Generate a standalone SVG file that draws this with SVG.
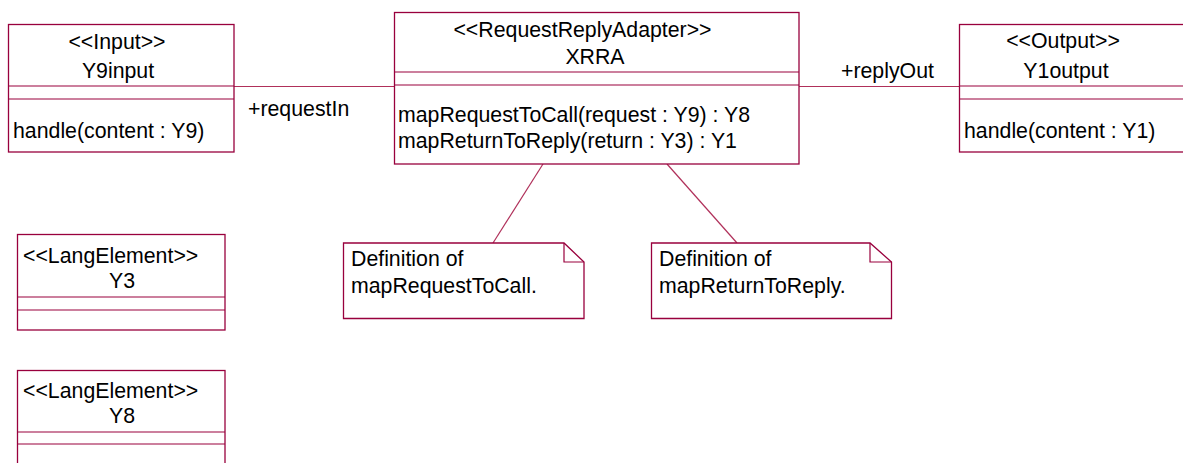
<svg xmlns="http://www.w3.org/2000/svg" width="1183" height="463" viewBox="0 0 1183 463">
  <style>
    .box { fill: #ffffff; stroke: #99003d; stroke-width: 1.3; }
    .ln { fill: none; stroke: #99003d; stroke-width: 1.2; }
    .conn { fill: none; stroke: #b0305a; stroke-width: 1.2; }
    text { font-family: "Liberation Sans", Arial, sans-serif; font-size: 21.3px; fill: #000000; }
    .c { text-anchor: middle; }
  </style>
  <rect width="1183" height="463" fill="#ffffff"/>

  <g id="connectors">
    <line class="conn" x1="234" y1="86.5" x2="394" y2="86.5"/>
    <line class="conn" x1="799" y1="86.5" x2="959" y2="86.5"/>
    <line class="conn" x1="543" y1="164" x2="493" y2="243"/>
    <line class="conn" x1="667" y1="164" x2="737" y2="243"/>
    <text x="248" y="116">+requestIn</text>
    <text x="841" y="78">+replyOut</text>
  </g>

  <g id="Y9input">
    <rect class="box" x="8.5" y="24.5" width="225.5" height="127.5"/>
    <line class="ln" x1="8.5" y1="86" x2="234" y2="86"/>
    <line class="ln" x1="8.5" y1="99" x2="234" y2="99"/>
    <text class="c" x="117" y="49">&lt;&lt;Input&gt;&gt;</text>
    <text class="c" x="118" y="78">Y9input</text>
    <text x="13" y="138">handle(content : Y9)</text>
  </g>

  <g id="XRRA">
    <rect class="box" x="394.5" y="12.5" width="404.5" height="151.5"/>
    <line class="ln" x1="394.5" y1="72" x2="799" y2="72"/>
    <line class="ln" x1="394.5" y1="85" x2="799" y2="85"/>
    <text class="c" x="582.5" y="37">&lt;&lt;RequestReplyAdapter&gt;&gt;</text>
    <text class="c" x="595" y="64">XRRA</text>
    <text x="398" y="122">mapRequestToCall(request : Y9) : Y8</text>
    <text x="398" y="148">mapReturnToReply(return : Y3) : Y1</text>
  </g>

  <g id="Y1output">
    <rect class="box" x="959.5" y="24.5" width="230" height="127.5"/>
    <line class="ln" x1="959.5" y1="86" x2="1189" y2="86"/>
    <line class="ln" x1="959.5" y1="99" x2="1189" y2="99"/>
    <text class="c" x="1063" y="48">&lt;&lt;Output&gt;&gt;</text>
    <text class="c" x="1066" y="78">Y1output</text>
    <text x="964" y="138">handle(content : Y1)</text>
  </g>

  <g id="Y3">
    <rect class="box" x="17.5" y="234.5" width="207.5" height="95.5"/>
    <line class="ln" x1="17.5" y1="297" x2="225" y2="297"/>
    <line class="ln" x1="17.5" y1="310" x2="225" y2="310"/>
    <text x="23" y="263">&lt;&lt;LangElement&gt;&gt;</text>
    <text class="c" x="122" y="288">Y3</text>
  </g>

  <g id="Y8">
    <rect class="box" x="17.5" y="370.5" width="207.5" height="110"/>
    <line class="ln" x1="17.5" y1="432" x2="225" y2="432"/>
    <line class="ln" x1="17.5" y1="444" x2="225" y2="444"/>
    <text x="23" y="398">&lt;&lt;LangElement&gt;&gt;</text>
    <text class="c" x="122" y="423">Y8</text>
  </g>

  <g id="note1">
    <path class="box" d="M343.5,243 H564 L584,262 V318.5 H343.5 Z"/>
    <path class="ln" d="M564,243 V262 H584"/>
    <text x="351" y="266">Definition of</text>
    <text x="351" y="293">mapRequestToCall.</text>
  </g>

  <g id="note2">
    <path class="box" d="M651.5,243 H870 L891.5,262 V318.5 H651.5 Z"/>
    <path class="ln" d="M870,243 V262 H891.5"/>
    <text x="659" y="266">Definition of</text>
    <text x="659" y="293">mapReturnToReply.</text>
  </g>
</svg>
